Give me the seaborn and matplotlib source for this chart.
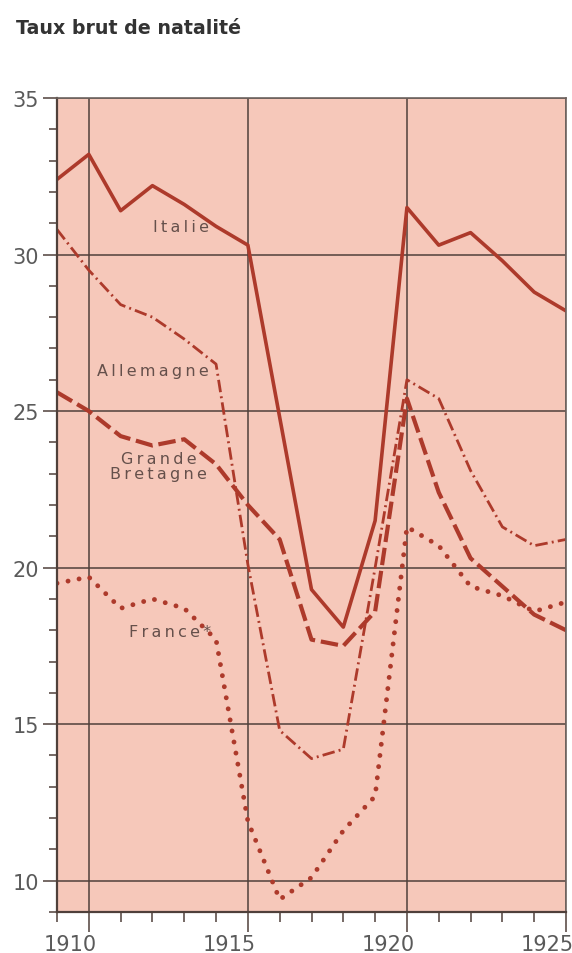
import matplotlib
matplotlib.use("Agg")
import matplotlib.pyplot as plt
import matplotlib.transforms as mtransforms
from matplotlib.ticker import MultipleLocator
import pandas as pd
import seaborn as sns


years = list(range(1909, 1926))
italie = [32.4, 33.2, 31.4, 32.2, 31.6, 30.9, 30.3, 24.8, 19.3, 18.1, 21.5,
          31.5, 30.3, 30.7, 29.8, 28.8, 28.2]
allemagne = [30.8, 29.5, 28.4, 28.0, 27.3, 26.5, 20.1, 14.8, 13.9, 14.2, 20.0,
             26.0, 25.4, 23.1, 21.3, 20.7, 20.9]
grande_bretagne = [25.6, 25.0, 24.2, 23.9, 24.1, 23.3, 22.0, 20.9, 17.7, 17.5, 18.6,
                   25.4, 22.4, 20.3, 19.4, 18.5, 18.0]
france = [19.5, 19.7, 18.7, 19.0, 18.7, 17.7, 11.9, 9.4, 10.1, 11.6, 12.7,
          21.3, 20.7, 19.4, 19.1, 18.6, 18.9]

x_ticks = [1910, 1915, 1920, 1925]
y_ticks = [10, 15, 20, 25, 30, 35]

LINE = "#ad3a2b"
GRID = "#4f403b"
LABEL = "#65504b"
TICKTXT = "#5a5a5a"

sns.set_style("ticks")
plt.rcParams["font.family"] = ["DejaVu Sans"]

df = pd.DataFrame({
    "annee": years,
    "Italie": italie,
    "Allemagne": allemagne,
    "Grande Bretagne": grande_bretagne,
    "France": france,
})

fig = plt.figure(figsize=(5.72, 9.54), dpi=100)
ax = fig.add_axes([57 / 572, 1 - 913 / 954, 509 / 572, 814 / 954])
ax.set_facecolor("#f6c8ba")

styles = {
    "Italie": dict(lw=2.6, linestyle="-"),
    "Allemagne": dict(lw=2.0, linestyle=(0, (4.5, 1.5, 0.7, 1.5))),
    "Grande Bretagne": dict(lw=3.0, linestyle=(0, (4.2, 1.4))),
    "France": dict(lw=3.5, linestyle=(0, (0.01, 2.3)), dash_capstyle="round"),
}
for name, kw in styles.items():
    sns.lineplot(data=df, x="annee", y=name, ax=ax, color=LINE, **kw)

ax.set_xlim(1909, 1925)
ax.set_ylim(9, 35)
ax.set_xlabel("")
ax.set_ylabel("")

ax.set_xticks(x_ticks)
ax.set_yticks(y_ticks)
ax.xaxis.set_minor_locator(MultipleLocator(1))
ax.yaxis.set_minor_locator(MultipleLocator(1))
ax.grid(True, which="major", color=GRID, lw=1.1)

ax.tick_params(axis="x", which="major", length=14.5, width=1.1, color=GRID,
               labelsize=15, labelcolor=TICKTXT, pad=1)
ax.tick_params(axis="x", which="minor", length=7, width=1.1, color=GRID)
ax.tick_params(axis="y", which="major", length=10, width=1.1, color=GRID,
               labelsize=15, labelcolor=TICKTXT, pad=3)
ax.tick_params(axis="y", which="minor", length=6, width=1.1, color=GRID)

# year labels sit a bit left of their gridline in the original print
shift = mtransforms.ScaledTranslation(-19 / 100, 0, fig.dpi_scale_trans)
for lab in ax.get_xticklabels():
    lab.set_transform(lab.get_transform() + shift)

for side in ["left", "bottom"]:
    ax.spines[side].set_color(GRID)
    ax.spines[side].set_linewidth(1.6)
for side in ["top", "right"]:
    ax.spines[side].set_color("#6e6460")
    ax.spines[side].set_linewidth(1.2)


def spaced(s):
    return "\n".join("\u2009".join(line) for line in s.split("\n"))


labels = [
    ("Italie", 1912.9, 30.9),
    ("Allemagne", 1912.0, 26.3),
    ("Grande\nBretagne", 1912.2, 23.25),
    ("France*", 1912.55, 17.95),
]
for txt, x, y in labels:
    ax.text(x, y, spaced(txt), fontsize=11.5, color=LABEL, ha="center",
            va="center", multialignment="center", linespacing=1.0)

fig.text(16 / 572, 1 - 28 / 954, "Taux brut de natalité", fontsize=13.7,
         fontweight="bold", color="#333333", ha="left", va="center")

fig.savefig("out.png", dpi=100)
